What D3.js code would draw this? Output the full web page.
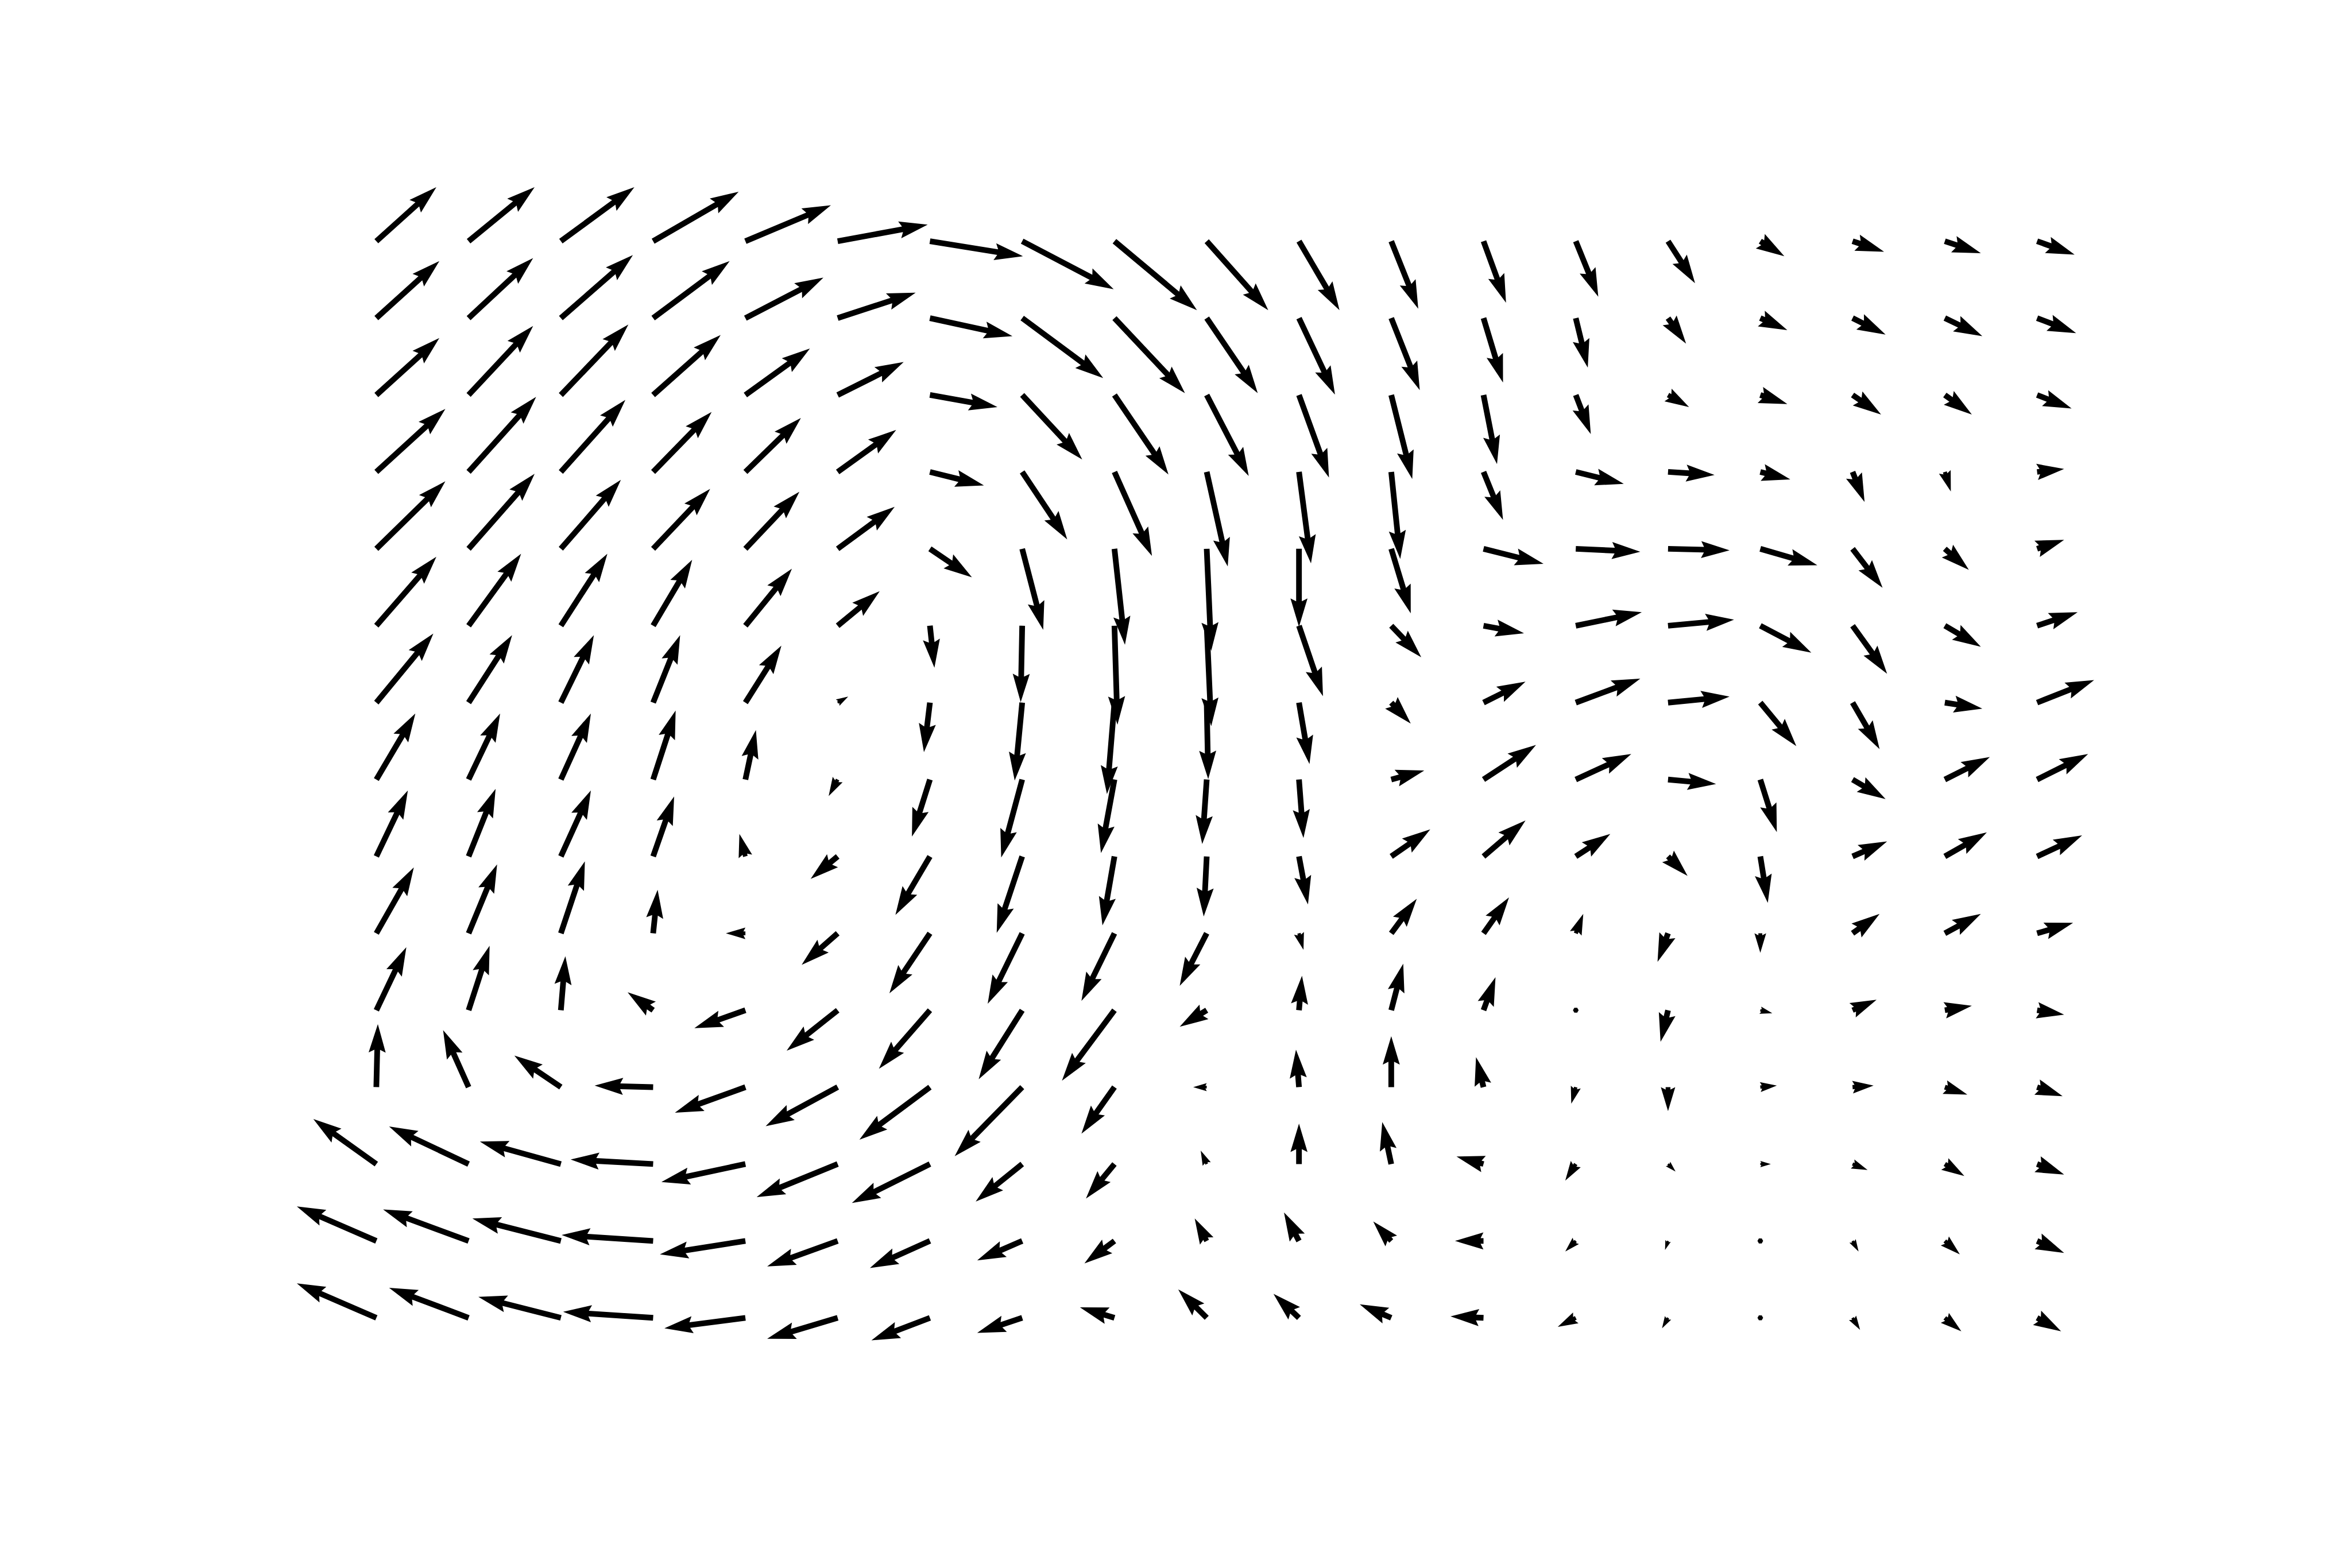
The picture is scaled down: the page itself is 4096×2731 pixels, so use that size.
<!DOCTYPE html>
<html>
<head>
<meta charset="utf-8">
<script src="https://cdn.jsdelivr.net/npm/d3@7"></script>
<style>
  html, body { margin: 0; padding: 0; background: #ffffff; }
  svg { display: block; }
</style>
</head>
<body>
<svg id="chart" width="4096" height="2731"></svg>
<script>
// Grid coordinates (column index, row index from top)
const xs = [0,1,2,3,4,5,6,7,8,9,10,11,12,13,14,15,16,17,18];
const ys = [0,1,2,3,4,5,6,7,8,9,10,11,12,13,14];

// U: rightward component, one row per grid row (top to bottom)
const U0  = [40,44,49,57,57,60,62,61,55,41,27,18,15,15,18,16,21,24,25];
const U1  = [42,43,48,51,52,52,55,54,47,34,24,19,13,8,12,18,22,25,26];
const U2  = [42,43,45,45,43,44,45,40,36,28,20,14,9,10,14,18,19,18,23];
const U3  = [46,45,43,39,37,39,36,30,25,14,8,6,13,32,31,20,8,4,18];
const U4  = [46,44,40,38,36,38,28,14,7,3,0,13,40,43,41,38,20,16,18];
const U5  = [40,35,31,26,31,28,3,-1,2,3,16,20,27,44,44,34,23,24,27];
const U6  = [38,29,22,18,24,7,-4,-5,-5,1,7,13,28,43,41,24,18,25,38];
const U7  = [26,21,20,15,7,-6,-12,-14,-9,-3,3,22,35,37,32,11,22,30,34];
const U8  = [21,18,20,14,-4,-18,-23,-17,-8,-2,6,26,28,23,13,5,23,28,30];
const U9  = [25,19,16,3,-13,-24,-27,-23,-22,-18,3,17,17,5,-7,0,18,24,24];
const U10 = [20,14,3,-17,-34,-34,-34,-29,-35,-18,2,8,8,0,-5,8,16,18,18];
const U11 = [1,-17,-31,-39,-47,-48,-47,-45,-22,-9,-2,0,-5,-3,0,11,14,15,17];
const U12 = [-42,-53,-54,-55,-56,-54,-52,-31,-19,-4,0,-6,-18,-7,5,7,10,13,18];
const U13 = [-53,-57,-59,-61,-57,-47,-40,-30,-20,-8,-10,-12,-19,-7,-2,0,4,10,18];
const U14 = [-53,-53,-55,-60,-54,-47,-39,-30,-23,-19,-17,-21,-22,-12,-4,0,5,11,16];

// V: upward component
const V0  = [36,36,36,33,24,11,-10,-32,-46,-46,-46,-45,-41,-37,-28,-10,-7,-8,-9];
const V1  = [38,40,42,38,27,17,-12,-40,-50,-50,-51,-48,-43,-33,-17,-8,-11,-12,-10];
const V2  = [38,46,47,40,31,22,-8,-43,-53,-54,-55,-56,-46,-26,-8,-6,-13,-13,-9];
const V3  = [42,50,48,40,36,28,-9,-45,-56,-63,-61,-58,-32,-8,-2,-5,-20,-13,2];
const V4  = [45,50,46,40,38,28,-19,-54,-64,-68,-52,-43,-10,-2,-1,-11,-26,-14,6];
const V5  = [46,48,48,44,38,23,-28,-51,-66,-67,-47,-21,-5,9,4,-18,-32,-14,9];
const V6  = [46,45,45,45,38,4,-33,-52,-61,-51,-41,-14,14,16,4,-29,-31,-4,15];
const V7  = [44,44,44,46,33,-11,-38,-52,-49,-43,-39,6,23,17,-3,-35,-13,15,17];
const V8  = [44,45,44,40,15,-15,-39,-51,-46,-40,-32,18,24,15,-13,-31,10,16,14];
const V9  = [44,46,48,29,0,-21,-40,-47,-45,-35,-11,23,24,13,-19,-13,13,13,7];
const V10 = [42,43,36,12,-12,-27,-39,-46,-47,-11,23,31,22,0,-21,-2,7,3,-3];
const V11 = [42,38,21,1,-17,-26,-35,-46,-31,0,25,34,20,-11,-16,1,1,-5,-6];
const V12 = [30,25,15,3,-12,-22,-26,-25,-23,9,27,28,5,-11,-5,0,-4,-8,-7];
const V13 = [23,21,15,4,-9,-17,-18,-13,-15,15,19,13,0,-7,-6,0,-7,-9,-8];
const V14 = [23,20,14,4,-7,-14,-15,-10,7,19,16,9,1,-6,-7,0,-8,-9,-9];

const Urows = [U0,U1,U2,U3,U4,U5,U6,U7,U8,U9,U10,U11,U12,U13,U14];
const Vrows = [V0,V1,V2,V3,V4,V5,V6,V7,V8,V9,V10,V11,V12,V13,V14];

const W = 4096, H = 2731;
const svg = d3.select("#chart");
svg.append("rect").attr("width", W).attr("height", H).attr("fill", "#ffffff");

const x = d3.scaleLinear().domain([0, 18]).range([655.4, 3547.6]);
const y = d3.scaleLinear().domain([0, 14]).range([420.1, 2295.3]);
const len = d3.scaleLinear().domain([0, 1]).range([0, 2.6122]);

// matplotlib-style quiver arrow geometry (in shaft-width units)
const shaftW = 9.9;
const headwidth = 3, headlength = 5, headaxislength = 4.5, minshaft = 1, minlength = 1;
const minsh = minshaft * headlength;

function arrowPath(tx, ty, u, v) {
  const dx = len(u), dy = -len(v);
  const Lpx = Math.hypot(dx, dy);
  const L = Lpx / shaftW;
  const ang = Math.atan2(dy, dx);
  const ca = Math.cos(ang), sa = Math.sin(ang);
  let pts;
  if (L < minlength) {
    pts = d3.range(7).map(i => {
      const th = i * Math.PI / 3;
      return [Math.cos(th) * minlength * 0.5, Math.sin(th) * minlength * 0.5];
    });
  } else {
    let X, Y;
    if (L < minsh) {
      const s = L / minsh;
      X = [0, minsh - headaxislength, minsh - headlength, minsh].map(d => d * s);
      Y = [0.5, 0.5, 0.5 * headwidth, 0].map(d => d * s);
    } else {
      X = [0, L - headaxislength, L - headlength, L];
      Y = [0.5, 0.5, 0.5 * headwidth, 0];
    }
    pts = [[X[0], Y[0]], [X[1], Y[1]], [X[2], Y[2]], [X[3], Y[3]],
           [X[2], -Y[2]], [X[1], -Y[1]], [X[0], -Y[0]]];
  }
  const p = pts.map(([a, b]) => {
    const px = a * shaftW, py = b * shaftW;
    return [tx + px * ca - py * sa, ty + px * sa + py * ca];
  });
  return "M" + p.map(q => q[0].toFixed(2) + "," + q[1].toFixed(2)).join("L") + "Z";
}

const data = [];
ys.forEach((r, ri) => {
  xs.forEach((c, ci) => {
    data.push({ c, r, u: Urows[ri][ci], v: Vrows[ri][ci] });
  });
});

svg.append("g").attr("class", "quiver")
  .selectAll("path")
  .data(data)
  .join("path")
  .attr("d", d => arrowPath(x(d.c), y(d.r), d.u, d.v))
  .attr("fill", "#000000")
  .attr("stroke", "none");
</script>
</body>
</html>
